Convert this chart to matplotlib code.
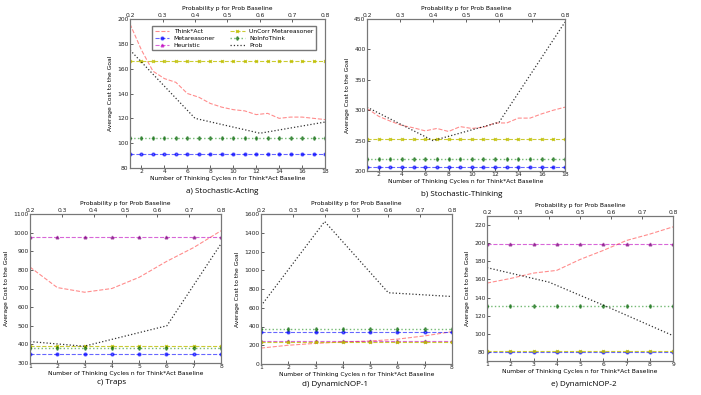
import matplotlib
matplotlib.use('Agg')
import matplotlib.pyplot as plt
import numpy as np

W, H = 701, 395

# ---- data ----
prob_p = [0.2, 0.4, 0.6, 0.8]

# a) Stochastic-Acting
a_n = list(range(1, 19))
a_think = [196, 175, 158, 152, 149, 140, 137, 132, 129, 127, 126, 123, 124, 120, 121, 121, 120, 119]
a_meta = 91.5
a_heur = None
a_uncorr = 166.5
a_noinfo = 104
a_prob = [175, 120, 108, 117]

# b) Stochastic-Thinking
b_n = list(range(1, 19))
b_think = [303, 290, 282, 275, 271, 266, 270, 265, 273, 270, 272, 279, 279, 287, 287, 294, 300, 305]
b_meta = 207
b_heur = None
b_uncorr = 253
b_noinfo = 220
b_prob = [305, 250, 280, 445]

# c) Traps
c_n = list(range(1, 9))
c_think = [815, 705, 680, 700, 760, 845, 920, 1010]
c_meta = 348
c_heur = 978
c_uncorr = 390
c_noinfo = 380
c_prob_p = [0.2, 0.37, 0.63, 0.8]
c_prob = [415, 390, 500, 940]

# d) DynamicNOP-1
d_n = list(range(1, 9))
d_think = [170, 200, 220, 235, 245, 265, 300, 345]
d_meta = 340
d_heur = 250
d_uncorr = 232
d_noinfo = 378
d_prob = [620, 1520, 760, 720]

# e) DynamicNOP-2
e_n = list(range(1, 10))
e_think = [156, 161, 167, 170, 182, 192, 203, 210, 218]
e_meta = 80
e_heur = 199
e_uncorr = 80.5
e_noinfo = 131
e_prob = [173, 157, 128, 98]

plt.rcParams['font.family'] = ['DejaVu Sans']
plt.rcParams['axes.edgecolor'] = '#777777'
plt.rcParams['xtick.color'] = '#222222'
plt.rcParams['ytick.color'] = '#222222'

fig = plt.figure(figsize=(W / 100, H / 100), dpi=100)

FS = 4.3


def box(l, t, r, b):
    return [l / W, 1 - b / H, (r - l) / W, (b - t) / H]


def panel(rect, n, think, meta, heur, uncorr, noinfo, pp, prob, ylim, yticks, xticks, title, tpos, legend=False):
    ax = fig.add_axes(box(*rect))
    ones = np.ones(len(n))
    ax.plot(n, think, '--', color='red', alpha=0.45, lw=0.8, label='Think*Act')
    ax.plot(n, meta * ones, '--', color='blue', alpha=0.6, lw=0.8, marker='o', ms=2, mfc='blue', mec='blue', label='Metareasoner')
    if heur is not None:
        ax.plot(n, heur * ones, '--', color='m', alpha=0.6, lw=0.8, marker='^', ms=2, mfc='purple', mec='purple', label='Heuristic')
    else:
        ax.plot([], [], '--', color='m', alpha=0.6, lw=0.8, marker='^', ms=2, label='Heuristic')
    ax.plot(n, uncorr * ones, '--', color='y', alpha=0.8, lw=0.8, marker='x', ms=2, label='UnCorr Metareasoner')
    ax.plot(n, noinfo * ones, ':', color='g', alpha=0.55, lw=1.0, marker='d', ms=2, mfc='darkgreen', mec='darkgreen', label='NoInfoThink')
    ax.plot([], [], ':', color='k', alpha=0.8, lw=0.9, label='Prob')
    ax.set_xlim(n[0], n[-1])
    ax.set_ylim(*ylim)
    ax.set_yticks(yticks)
    ax.set_xticks(xticks)
    ax.tick_params(labelsize=FS, length=2, pad=1, direction='in', width=0.5)
    ax.set_xlabel('Number of Thinking Cycles n for Think*Act Baseline', fontsize=FS, labelpad=1)
    ax.set_ylabel('Average Cost to the Goal', fontsize=FS, labelpad=3)
    if legend:
        ax.legend(loc='upper right', ncol=2, fontsize=FS, handlelength=2.4, columnspacing=2.5,
                  borderpad=0.4, labelspacing=0.3, fancybox=False, edgecolor='#777777', framealpha=1,
                  bbox_to_anchor=(0.97, 0.97))
    ax2 = ax.twiny()
    ax2.plot(pp, prob, ':', color='k', alpha=0.8, lw=0.9)
    ax2.set_xlim(0.2, 0.8)
    ax2.set_ylim(*ylim)
    ax2.set_xticks([0.2, 0.3, 0.4, 0.5, 0.6, 0.7, 0.8])
    ax2.tick_params(labelsize=FS, length=2, pad=1, direction='in', width=0.5)
    ax2.set_xlabel('Probability p for Prob Baseline', fontsize=FS, labelpad=2)
    for s in list(ax.spines.values()) + list(ax2.spines.values()):
        s.set_linewidth(0.8)
    fig.text(tpos[0] / W, 1 - tpos[1] / H, title, fontsize=5.8, family='Open Sans', ha='center', va='center')
    return ax


panel((130, 19, 325, 168), a_n, a_think, a_meta, a_heur, a_uncorr, a_noinfo, prob_p, a_prob,
      (80, 200), range(80, 201, 20), range(2, 19, 2), 'a) Stochastic-Acting', (222, 192), legend=True)
panel((367, 19, 565, 171), b_n, b_think, b_meta, b_heur, b_uncorr, b_noinfo, prob_p, b_prob,
      (200, 450), range(200, 451, 50), range(2, 19, 2), 'b) Stochastic-Thinking', (462, 195))
panel((30, 214, 221, 363), c_n, c_think, c_meta, c_heur, c_uncorr, c_noinfo, c_prob_p, c_prob,
      (300, 1100), range(300, 1101, 100), range(1, 9), 'c) Traps', (112, 383))
panel((261, 214, 452, 364), d_n, d_think, d_meta, d_heur, d_uncorr, d_noinfo, prob_p, d_prob,
      (0, 1600), range(0, 1601, 200), range(1, 9), 'd) DynamicNOP-1', (335, 384))
panel((487, 216, 673, 361), e_n, e_think, e_meta, e_heur, e_uncorr, e_noinfo, prob_p, e_prob,
      (70, 230), range(80, 221, 20), range(1, 10), 'e) DynamicNOP-2', (584, 385))

fig.savefig('out.png', dpi=100)
